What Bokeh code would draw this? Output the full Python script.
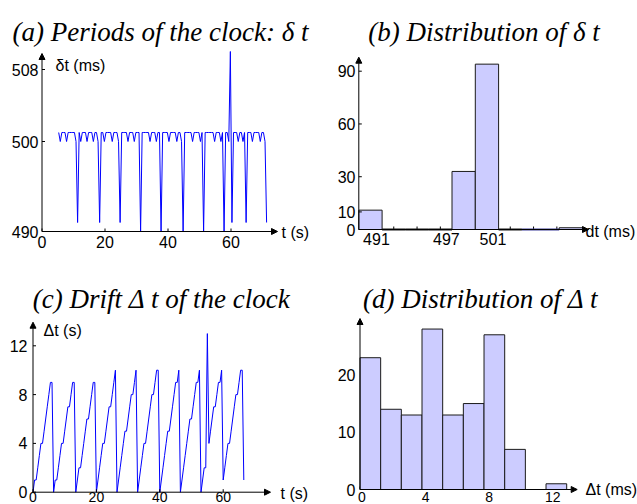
from bokeh.plotting import figure
from bokeh.layouts import column, row
from bokeh.models import Arrow, NormalHead
from bokeh.core.properties import value
from bokeh.embed import file_html
from bokeh.resources import INLINE

# ------------------------------------------------------------------ data
# (a) period of each clock tick (ms); ticks every 0.5 s starting at t = 5.3 s
period_ms = [
    501, 500, 501, 501, 501, 500, 501, 501, 501, 501, 501, 500, 491,
    501, 500, 501, 501, 501, 500, 501, 501, 501, 500, 501, 501, 500, 491,
    501, 501, 500, 501, 501, 501, 501, 500, 501, 501, 501, 500, 491,
    501, 501, 501, 501, 500, 501, 501, 501, 500, 501, 501, 501, 490,
    501, 501, 501, 501, 501, 500, 501, 501, 501, 500, 501, 501, 490,
    501, 501, 501, 501, 500, 501, 501, 501, 501, 500, 501, 501, 500, 490,
    501, 501, 501, 501, 501, 500, 501, 501, 501, 501, 500, 501, 490,
    501, 501, 501, 501, 501, 501, 500, 501, 501, 501, 500, 501, 490,
    501, 501, 500, 510, 491,
    501, 501, 501, 500, 501, 501, 500, 501, 491,
    501, 501, 501, 500, 501, 501, 501, 501, 500, 501, 501, 500, 491,
]
period_t0 = 5.3      # s
tick_step = 0.5      # s

# (c) drift of the clock, one value per tick from t = 0
drift = [
    0, 1, 1, 2, 3, 4, 4, 5, 6, 7, 8, 9, 9,
    0, 1, 1, 2, 3, 4, 4, 5, 6, 7, 7, 8, 9, 9,
    0, 1, 2, 2, 3, 4, 5, 6, 6, 7, 8, 9, 9,
    0, 1, 2, 3, 4, 4, 5, 6, 7, 7, 8, 9, 10,
    0, 1, 2, 3, 4, 5, 5, 6, 7, 8, 8, 9, 10,
    0, 1, 2, 3, 4, 4, 5, 6, 7, 8, 8, 9, 10, 10,
    0, 1, 2, 3, 4, 5, 5, 6, 7, 8, 9, 9, 10,
    0, 1, 2, 3, 4, 5, 6, 6, 7, 8, 9, 9, 10,
    0, 1, 2, 2, 13,
    4, 5, 6, 7, 7, 8, 9, 9, 10,
    1, 2, 3, 4, 4, 5, 6, 7, 8, 8, 9, 10, 10,
    1,
]

# (b) distribution of the periods
dt_bin_left = [490, 492, 494, 496, 498, 500, 502, 504, 507.2]
dt_bin_right = [492, 494, 496, 498, 500, 502, 504, 507.2, 509.2]
dt_counts = [11, 0, 0, 0, 33, 94, 0, 0, 1]

# (d) distribution of the drift
drift_bin_left = [0, 1.3, 2.6, 3.9, 5.2, 6.5, 7.8, 9.1, 10.4, 11.7]
drift_bin_right = [1.3, 2.6, 3.9, 5.2, 6.5, 7.8, 9.1, 10.4, 11.7, 13.0]
drift_counts = [23, 14, 13, 28, 13, 15, 27, 7, 0, 1]

# ticks
a_xticks = [0, 20, 40, 60]
a_yticks = [490, 500, 508]
b_xticks = [491, 497, 501]
b_xminor = [491, 493, 495, 497, 499, 501, 503, 505, 507]
b_yticks = [0, 10, 30, 60, 90]
c_xticks = [0, 20, 40, 60]
c_yticks = [0, 4, 8, 12]
d_xticks = [0, 4, 8, 12]
d_yticks = [0, 10, 20]

titles = ["(a) Periods of the clock: δ t", "(b) Distribution of δ t",
          "(c) Drift Δ t of the clock", "(d) Distribution of Δ t"]

# ------------------------------------------------------------------ style
LINE = "#0000ff"
BAR = "#ccccff"
EDGE = "#1a1a1a"
NAVY = "#3c3c99"
SANS = value("Liberation Sans")
SERIF = value("Liberation Serif")


class Panel:
    def __init__(self, w, h, ox, x0v, sx, oy, y0v, sy):
        self.ox, self.x0v, self.sx = ox, x0v, sx
        self.oy, self.y0v, self.sy = oy, y0v, sy
        xr = (x0v - ox / sx, x0v + (w - ox) / sx)
        yr = (y0v - (h - oy) / sy, y0v + oy / sy)
        p = figure(width=w, height=h, x_range=xr, y_range=yr,
                   output_backend="svg", toolbar_location=None,
                   x_axis_location=None, y_axis_location=None, min_border=0)
        p.grid.visible = False
        p.outline_line_color = None
        p.background_fill_color = "white"
        p.border_fill_color = "white"
        self.p = p

    def X(self, px):
        return self.x0v + (px - self.ox) / self.sx

    def Y(self, py):
        return self.y0v + (self.oy - py) / self.sy

    def title(self, txt, cx, base):
        self.p.text(x=[self.X(cx)], y=[self.Y(base)], text=[txt],
                    text_font=SERIF, text_font_style="italic",
                    text_font_size="27px", text_align="center",
                    text_baseline="alphabetic", text_color="black")

    def label(self, txt, lx, cy):
        self.p.text(x=[self.X(lx)], y=[self.Y(cy)], text=[txt],
                    text_font=SANS, text_font_size="16px", text_align="left",
                    text_baseline="middle", text_color="black")

    def axes(self, x_end_px, y_end_px):
        for xe, ye in [(self.X(x_end_px), self.y0v), (self.x0v, self.Y(y_end_px))]:
            self.p.add_layout(Arrow(
                end=NormalHead(size=6, fill_color="black", line_color="black"),
                x_start=self.x0v, y_start=self.y0v, x_end=xe, y_end=ye,
                line_color="black", line_width=1))

    def yticklabels(self, ticks, right_px, marks=True):
        self.p.text(x=[self.X(right_px)] * len(ticks), y=ticks,
                    text=[str(t) for t in ticks], text_font=SANS,
                    text_font_size="16px", text_align="right",
                    text_baseline="middle", text_color="black")
        if marks:
            self.p.segment(x0=[self.x0v] * len(ticks), y0=ticks,
                           x1=[self.x0v + 3 / self.sx] * len(ticks), y1=ticks,
                           line_color="black", line_width=1)

    def xticklabels(self, ticks, cy_px, xoff=0, marks=True, size="16px"):
        self.p.text(x=ticks, y=[self.Y(cy_px)] * len(ticks),
                    text=[str(t) for t in ticks], text_font=SANS,
                    text_font_size=size, text_align="center",
                    text_baseline="middle", text_color="black", x_offset=xoff)
        if marks:
            self.xmarks(ticks)

    def xmarks(self, ticks):
        self.p.segment(x0=ticks, y0=[self.y0v] * len(ticks),
                       x1=ticks, y1=[self.y0v + 3 / self.sy] * len(ticks),
                       line_color="black", line_width=1)


# ------------------------------------------------------------------ (a)
A = Panel(318, 252, 41.5, 0, 3.15, 231, 490, 9.0)
t_a = [period_t0 + tick_step * i for i in range(len(period_ms))]
A.p.line(t_a, period_ms, line_color=LINE, line_width=1)
A.axes(277, 53)
A.yticklabels(a_yticks, 38)
A.xticklabels(a_xticks, 241)
A.label("δt (ms)", 55, 65)
A.label("t (s)", 281, 231.5)
A.title(titles[0], 160, 31)

# ------------------------------------------------------------------ (b)
B = Panel(319, 252, 40.3, 490, 11.65, 229, 0, 1.759)
B.xmarks(b_xminor)
nz = [i for i, c in enumerate(dt_counts) if c > 0]
zr = [i for i, c in enumerate(dt_counts) if c == 0]
zero_colors = [NAVY if dt_bin_left[i] >= 504 else EDGE for i in zr]
B.p.quad(left=[dt_bin_left[i] for i in zr], right=[dt_bin_right[i] for i in zr],
         bottom=[0] * len(zr), top=[dt_counts[i] for i in zr],
         fill_color=BAR, line_color=zero_colors, line_width=2)
B.p.quad(left=[dt_bin_left[i] for i in nz], right=[dt_bin_right[i] for i in nz],
         bottom=[0] * len(nz), top=[dt_counts[i] for i in nz],
         fill_color=BAR, line_color=EDGE, line_width=1)
B.axes(270, 56.7)
B.yticklabels(b_yticks, 37)
B.xticklabels(b_xticks, 238, xoff=6, marks=False)
B.label("dt (ms)", 267, 231)
B.title(titles[1], 165.5, 31)

# ------------------------------------------------------------------ (c)
C = Panel(318, 252, 32.5, 0, 3.17, 239.7, 0, 12.2)
t_c = [tick_step * i for i in range(len(drift))]
C.p.line(t_c, drift, line_color=LINE, line_width=1)
C.axes(270, 69.7)
C.yticklabels(c_yticks, 27)
C.xticklabels(c_xticks, 244.5, size="14px")
C.label("Δt (s)", 43, 78)
C.label("t (s)", 280, 241)
C.title(titles[2], 161, 46)

# ------------------------------------------------------------------ (d)
D = Panel(319, 252, 41.5, 0, 15.9, 237, 0, 5.73)
D.xmarks(d_xticks)
dn = [i for i, c in enumerate(drift_counts) if c > 0]
D.p.quad(left=[drift_bin_left[i] for i in dn], right=[drift_bin_right[i] for i in dn],
         bottom=[0] * len(dn), top=[drift_counts[i] for i in dn],
         fill_color=BAR, line_color=EDGE, line_width=1)
D.axes(258.7, 66)
D.yticklabels(d_yticks, 37, marks=False)
D.xticklabels(d_xticks, 244.5, xoff=2, marks=False, size="14px")
D.label("Δt (ms)", 267, 237)
D.title(titles[3], 162, 46)

layout = column(row(A.p, B.p), row(C.p, D.p))
open("out.html", "w").write(file_html(layout, INLINE))
